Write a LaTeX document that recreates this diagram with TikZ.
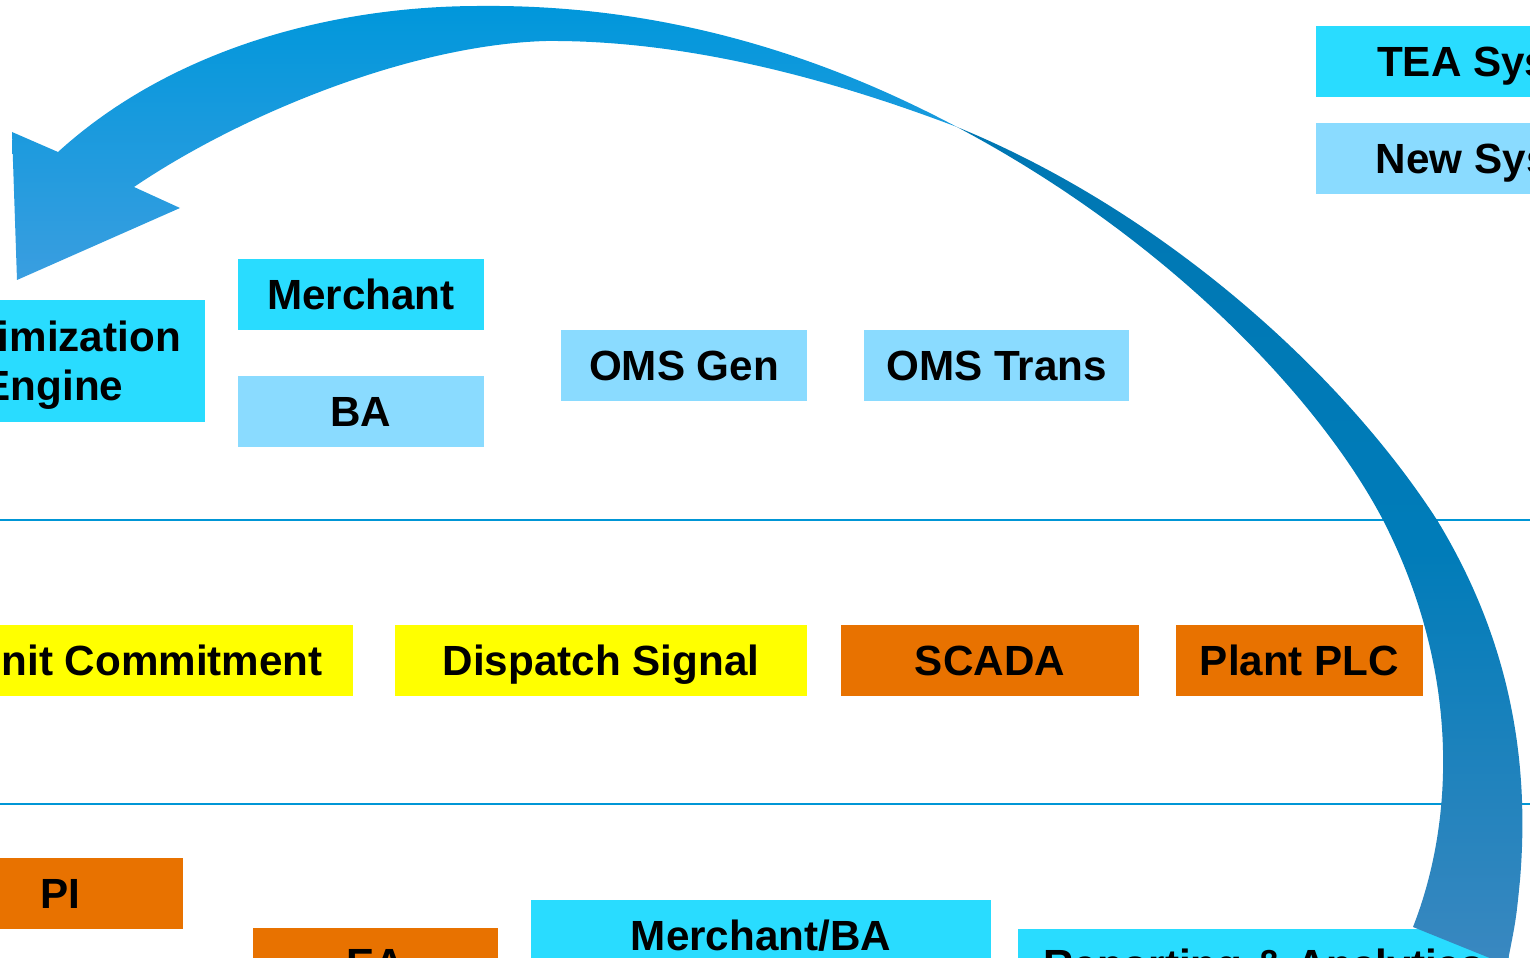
\documentclass[tikz,border=0pt]{standalone}
\usepackage{fontspec}
\setmainfont{Liberation Sans}
\usepackage{xcolor}
\usepackage{tikz}
\definecolor{teacyan}{RGB}{41,220,255}
\definecolor{newblue}{RGB}{138,219,255}
\definecolor{sigyellow}{RGB}{255,255,0}
\definecolor{plcorange}{RGB}{232,114,0}
\definecolor{rowline}{RGB}{0,150,214}
\definecolor{loopA}{RGB}{0,151,219}
\definecolor{loopB}{RGB}{58,158,224}
\definecolor{loopC}{RGB}{0,119,179}
\definecolor{loopD}{RGB}{0,124,185}
\definecolor{loopE}{RGB}{58,136,192}

\begin{document}
\begin{tikzpicture}[x=0.01cm,y=-0.01cm,
	boxbase/.style={inner sep=0pt, minimum height=0.71cm, text depth=0pt, font=\fontsize{12}{14}\selectfont\bfseries},
	box/.style={boxbase, text height=8.6pt},
	tea/.style={box, fill=teacyan},
	new/.style={box, fill=newblue},
	sig/.style={box, fill=sigyellow},
	field/.style={box, fill=plcorange}]
	\useasboundingbox (0,0) rectangle (1530,958);
	\clip (0,0) rectangle (1530,958);
	\draw[rowline, line width=0.02cm] (0,520) -- (1530,520);
	\draw[rowline, line width=0.02cm] (0,804) -- (1530,804);
	\node[boxbase, fill=teacyan, align=center, minimum width=3.04cm, minimum height=1.22cm] (opt) at (53,361) {Optimization\\Engine};
	\node[tea, minimum width=2.46cm] (merchant) at (361,294.5) {Merchant};
	\node[new, minimum width=2.46cm] (ba) at (361,411.5) {BA};
	\node[new, minimum width=2.46cm] (omsgen) at (684,365.5) {OMS Gen};
	\node[new, minimum width=2.65cm] (omstrans) at (996.5,365.5) {OMS Trans};
	\node[tea, minimum width=3.92cm] (teasys) at (1512,61.5) {TEA Systems};
	\node[new, minimum width=3.92cm] (newsys) at (1512,158.5) {New Systems};
	\node[sig, minimum width=4.12cm] (unitcom) at (147,660.5) {Unit Commitment};
	\node[sig, minimum width=4.12cm] (dispatch) at (601,660.5) {Dispatch Signal};
	\node[field, minimum width=2.98cm] (scada) at (990,660.5) {SCADA};
	\node[field, minimum width=2.47cm] (plantplc) at (1299.5,660.5) {Plant PLC};
	\node[field, minimum width=2.46cm] (pi) at (60,893.5) {PI};
	\node[field, minimum width=2.45cm] (ea) at (375.5,963.5) {EA};
	\node[tea, minimum width=4.60cm] (merchba) at (761,935.5) {Merchant/BA};
	\node[tea, minimum width=4.91cm] (reporting) at (1263.5,964.5) {Reporting \& Analytics};
	\shade[top color=loopA, bottom color=loopB] (17,280) -- (12,132) -- (58,152)
		.. controls (170,50) and (330,6) .. (480,6)
		.. controls (680,4) and (840,65) .. (957,127)
		.. controls (820,75) and (680,40) .. (546,41)
		.. controls (410,45) and (240,115) .. (134,187)
		-- (180,208) -- cycle;
	\shade[top color=loopC, bottom color=loopE, middle color=loopD] (957,127)
		.. controls (1160,210) and (1340,370) .. (1437,520)
		.. controls (1510,640) and (1530,760) .. (1520,880)
		.. controls (1516,920) .. (1507,965)
		-- (1413,927)
		.. controls (1455,820) and (1460,670) .. (1383,520)
		.. controls (1320,400) and (1170,240) .. (957,127)
		-- cycle;
\end{tikzpicture}
\end{document}
